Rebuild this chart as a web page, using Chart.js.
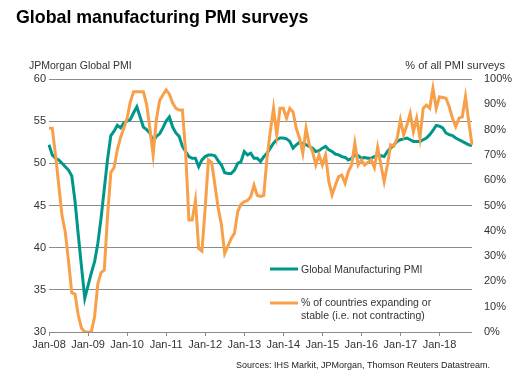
<!DOCTYPE html>
<html lang="en">
<head>
    <meta charset="UTF-8">
    <title>Global manufacturing PMI surveys</title>
    <style>
        body {
            margin: 0;
            padding: 0;
            background-color: #fff;
        }
        #wrap {
            position: relative;
            width: 525px;
            height: 385px;
        }
    </style>
    <script src="https://cdn.jsdelivr.net/npm/chart.js"></script>
</head>
<body>
    <div id="wrap">
        <canvas id="pmi-chart" width="525" height="385"></canvas>
    </div>
    <script>
        // tick labels, one per January (Jan-08 .. Jan-18), data runs monthly to Nov-18
        const yearLabels = ['Jan-08', 'Jan-09', 'Jan-10', 'Jan-11', 'Jan-12', 'Jan-13',
                            'Jan-14', 'Jan-15', 'Jan-16', 'Jan-17', 'Jan-18'];

        // JPMorgan Global Manufacturing PMI (left axis)
        const pmi = [
            52.2, 51.0, 50.6, 50.4, 50.0, 49.6, 49.2, 48.5, 45.5, 41.5, 37.7, 34.0,
            35.5, 37.0, 38.3, 40.5, 43.5, 47.0, 50.5, 53.3, 53.8, 54.5, 54.2, 54.8,
            55.0, 55.2, 56.0, 56.7, 55.5, 54.3, 54.0, 53.6, 52.6, 53.2, 53.5, 54.2,
            55.0, 55.5, 54.3, 53.6, 53.2, 52.0, 51.4, 50.8, 50.6, 50.6, 49.6, 50.4,
            50.8, 51.0, 51.0, 50.9, 50.3, 49.8, 48.9, 48.8, 48.8, 49.2, 50.0, 50.2,
            51.4, 51.0, 51.2, 50.6, 50.6, 50.2, 50.8, 51.2, 51.8, 52.4, 52.8, 53.0,
            53.0, 52.9, 52.6, 51.8, 52.2, 52.5, 52.3, 52.2, 52.0, 51.8, 51.4, 51.5,
            51.8, 52.0, 51.6, 51.4, 51.1, 51.0, 50.8, 50.7, 50.4, 50.6, 51.0, 50.9,
            50.6, 50.7, 50.6, 50.6, 50.8, 51.0, 50.9, 50.8, 51.4, 51.8, 52.2, 52.6,
            52.8, 52.9, 53.0, 52.8, 52.6, 52.6, 52.6, 52.8, 53.0, 53.4, 53.9, 54.5,
            54.4, 54.2, 53.6, 53.4, 53.3, 53.0, 52.8, 52.6, 52.4, 52.2, 52.1
        ];

        // % of countries expanding or stable (right axis)
        const expanding = [
            80.5, 80.5, 70, 58, 46, 39.5, 28, 15.5, 15, 6.5, 1.5, 0,
            0, 0, 6, 19, 23.5, 24.5, 46, 63, 65, 72, 77, 80.5,
            84.5, 91, 95, 95, 95, 95, 90, 80.5, 70, 84, 91.5, 93.7,
            95.7, 94, 90.5, 88.4, 87.7, 87.7, 71, 44.3, 44.3, 52, 33, 32,
            49, 68, 67, 58, 49, 42.3, 31, 34, 37, 39, 47.6, 50.5,
            51.5, 52, 53.5, 58, 54, 53.6, 54, 68.7, 79.2, 88.4, 77.9, 88.4,
            88.4, 84.5, 88.4, 87, 80.5, 76.6, 70.6, 80.5, 74, 71.3, 66, 70,
            66, 70, 59.4, 54.2, 58, 61.4, 62, 58.8, 63.4, 66, 74.6, 66,
            68, 66, 67, 68, 65, 73, 66, 59.4, 66, 74, 73.5, 76.6,
            83.8, 77.9, 81.8, 86.4, 79.2, 84.5, 76.6, 88.4, 89.7, 88.4, 96.3, 88.4,
            93, 92.7, 92.4, 89, 84.5, 81.2, 84.5, 85, 93, 83.1, 74
        ];

        const months = pmi.map((v, i) => (i % 12 === 0 ? yearLabels[i / 12] : ''));

        const TEAL = '#00968a';
        const ORANGE = '#f89f4a';
        const GRID = '#8c8c8c';
        const TEXT = '#333';
        const FONT = 'Arial, "Liberation Sans", sans-serif';

        Chart.defaults.font.family = FONT;
        Chart.defaults.color = TEXT;

        // title, axis captions, in-plot legend and source line
        const extras = {
            id: 'extras',
            afterDraw(chart) {
                const ctx = chart.ctx;
                ctx.save();
                ctx.textBaseline = 'alphabetic';

                ctx.fillStyle = '#000';
                ctx.font = 'bold 17.8px ' + FONT;
                ctx.textAlign = 'left';
                ctx.fillText('Global manufacturing PMI surveys', 16, 23);

                ctx.fillStyle = TEXT;
                ctx.font = '10.5px ' + FONT;
                ctx.fillText('JPMorgan Global PMI', 29, 69);
                ctx.textAlign = 'right';
                ctx.font = '11px ' + FONT;
                ctx.fillText('% of all PMI surveys', 505, 69);

                // legend
                const lx = 270;
                ctx.lineWidth = 3;
                ctx.strokeStyle = TEAL;
                ctx.beginPath(); ctx.moveTo(lx, 269); ctx.lineTo(lx + 28, 269); ctx.stroke();
                ctx.strokeStyle = ORANGE;
                ctx.beginPath(); ctx.moveTo(lx, 303); ctx.lineTo(lx + 28, 303); ctx.stroke();
                ctx.font = '10.5px ' + FONT;
                ctx.textAlign = 'left';
                ctx.textBaseline = 'middle';
                ctx.fillText('Global Manufacturing PMI', lx + 31, 270);
                ctx.fillText('% of countries expanding or', lx + 31, 303);
                ctx.fillText('stable (i.e. not contracting)', lx + 31, 316);

                ctx.textBaseline = 'alphabetic';
                ctx.textAlign = 'right';
                ctx.fillStyle = '#222';
                ctx.font = '9px ' + FONT;
                ctx.fillText('Sources: IHS Markit, JPMorgan, Thomson Reuters Datastream.', 490, 368);
                ctx.restore();
            }
        };

        new Chart(document.getElementById('pmi-chart'), {
            type: 'line',
            data: {
                labels: months,
                datasets: [
                    {
                        label: '% of countries expanding or stable (i.e. not contracting)',
                        data: expanding,
                        yAxisID: 'y1',
                        borderColor: ORANGE,
                        borderWidth: 3,
                        pointRadius: 0,
                        tension: 0,
                        order: 0
                    },
                    {
                        label: 'Global Manufacturing PMI',
                        data: pmi,
                        yAxisID: 'y',
                        borderColor: TEAL,
                        borderWidth: 3,
                        pointRadius: 0,
                        tension: 0,
                        order: 1
                    }
                ]
            },
            options: {
                responsive: false,
                animation: false,
                layout: { padding: { top: 79, left: 0, right: 0, bottom: 0 } },
                plugins: {
                    legend: { display: false },
                    tooltip: { enabled: false }
                },
                scales: {
                    x: {
                        offset: false,
                        border: { display: false },
                        grid: {
                            drawOnChartArea: false,
                            drawTicks: true,
                            tickLength: 4,
                            tickColor: c => (c.tick && c.tick.label ? GRID : 'rgba(0,0,0,0)')
                        },
                        ticks: {
                            autoSkip: false,
                            maxRotation: 0,
                            padding: 2,
                            font: { size: 11 },
                            color: TEXT
                        },
                        afterFit: s => { s.height = 53; }
                    },
                    y: {
                        position: 'left',
                        min: 30,
                        max: 60,
                        border: { display: false },
                        grid: { color: GRID, lineWidth: 1, drawTicks: false },
                        ticks: { stepSize: 5, padding: 3, font: { size: 11 }, color: TEXT },
                        afterFit: s => { s.width = 49; }
                    },
                    y1: {
                        position: 'right',
                        min: 0,
                        max: 100,
                        border: { display: false },
                        grid: { drawOnChartArea: false, drawTicks: false },
                        ticks: {
                            stepSize: 10,
                            padding: 12,
                            font: { size: 11 },
                            color: TEXT,
                            callback: v => v + '%'
                        },
                        afterFit: s => { s.width = 53; }
                    }
                }
            },
            plugins: [extras]
        });
    </script>
</body>
</html>
